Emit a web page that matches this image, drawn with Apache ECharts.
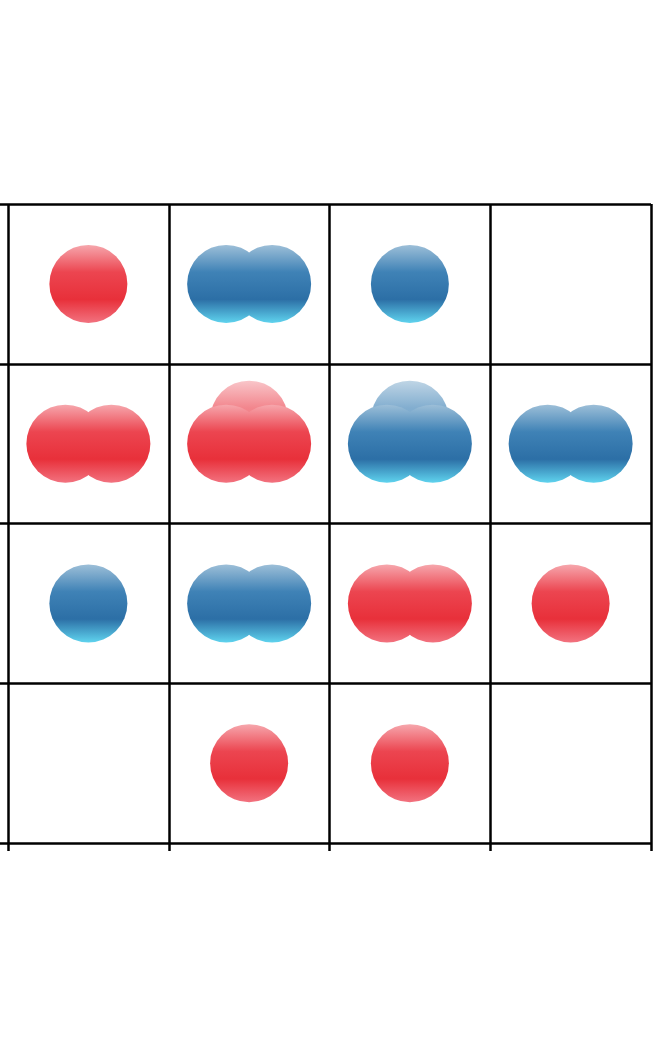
<!DOCTYPE html>
<html><head><meta charset="utf-8">
<script src="https://cdn.jsdelivr.net/npm/echarts@6/dist/echarts.min.js"></script>
<style>html,body{margin:0;padding:0;background:#fff}#c{width:656px;height:1048px}</style>
</head><body><div id="c"></div>
<script>
// rows top to bottom, columns left to right
const ballColors = [
  ['red','blue','blue',null],
  ['red','red','blue','blue'],
  ['blue','blue','red','red'],
  [null,'red','red',null]
];
const ballCounts = [
  [1,2,1,0],
  [2,3,3,2],
  [1,2,2,1],
  [0,1,1,0]
];
function grad(c){
  const s = c==='red'
    ? ['#f6a7ad','#ec4550','#e8303a','#f2727f']
    : ['#9dbfd8','#3f82b6','#2c6fa6','#5fd3ee'];
  return {type:'linear',x:0,y:0,x2:0,y2:1,colorStops:[
    {offset:0,color:s[0]},{offset:0.35,color:s[1]},{offset:0.7,color:s[2]},{offset:1,color:s[3]}]};
}
const back=[], left=[], right=[], single=[];
ballColors.forEach((row,r)=>row.forEach((c,col)=>{
  const n=ballCounts[r][col]; if(!n) return;
  const x=col+0.5, y=3-r+0.5;
  const st={color:grad(c),opacity:1};
  if(n===1) single.push({value:[x,y],itemStyle:st});
  else{
    if(n===3) back.push({value:[x,y],itemStyle:{color:grad(c),opacity:0.65},symbolOffset:[0,-24]});
    left.push({value:[x,y],itemStyle:st,symbolOffset:[-23,0]});
    right.push({value:[x,y],itemStyle:st,symbolOffset:[23,0]});
  }
}));
const ser = d=>({type:'scatter',data:d,symbolSize:78,silent:true,animation:false,itemStyle:{opacity:1}});
const ax = ()=>({type:'value',min:0,max:4,interval:1,axisLine:{show:false},
  axisTick:{show:true,length:8,lineStyle:{color:'#000',width:2.5}},axisLabel:{show:false},
  splitLine:{show:true,lineStyle:{color:'#000',width:2.5}}});
const chart=echarts.init(document.getElementById('c'));
chart.setOption({
  grid:{left:8,right:5,top:204,bottom:205},
  xAxis:ax(),
  yAxis:ax(),
  series:[ser(back),ser(left),ser(right),ser(single)]
});
</script></body></html>
